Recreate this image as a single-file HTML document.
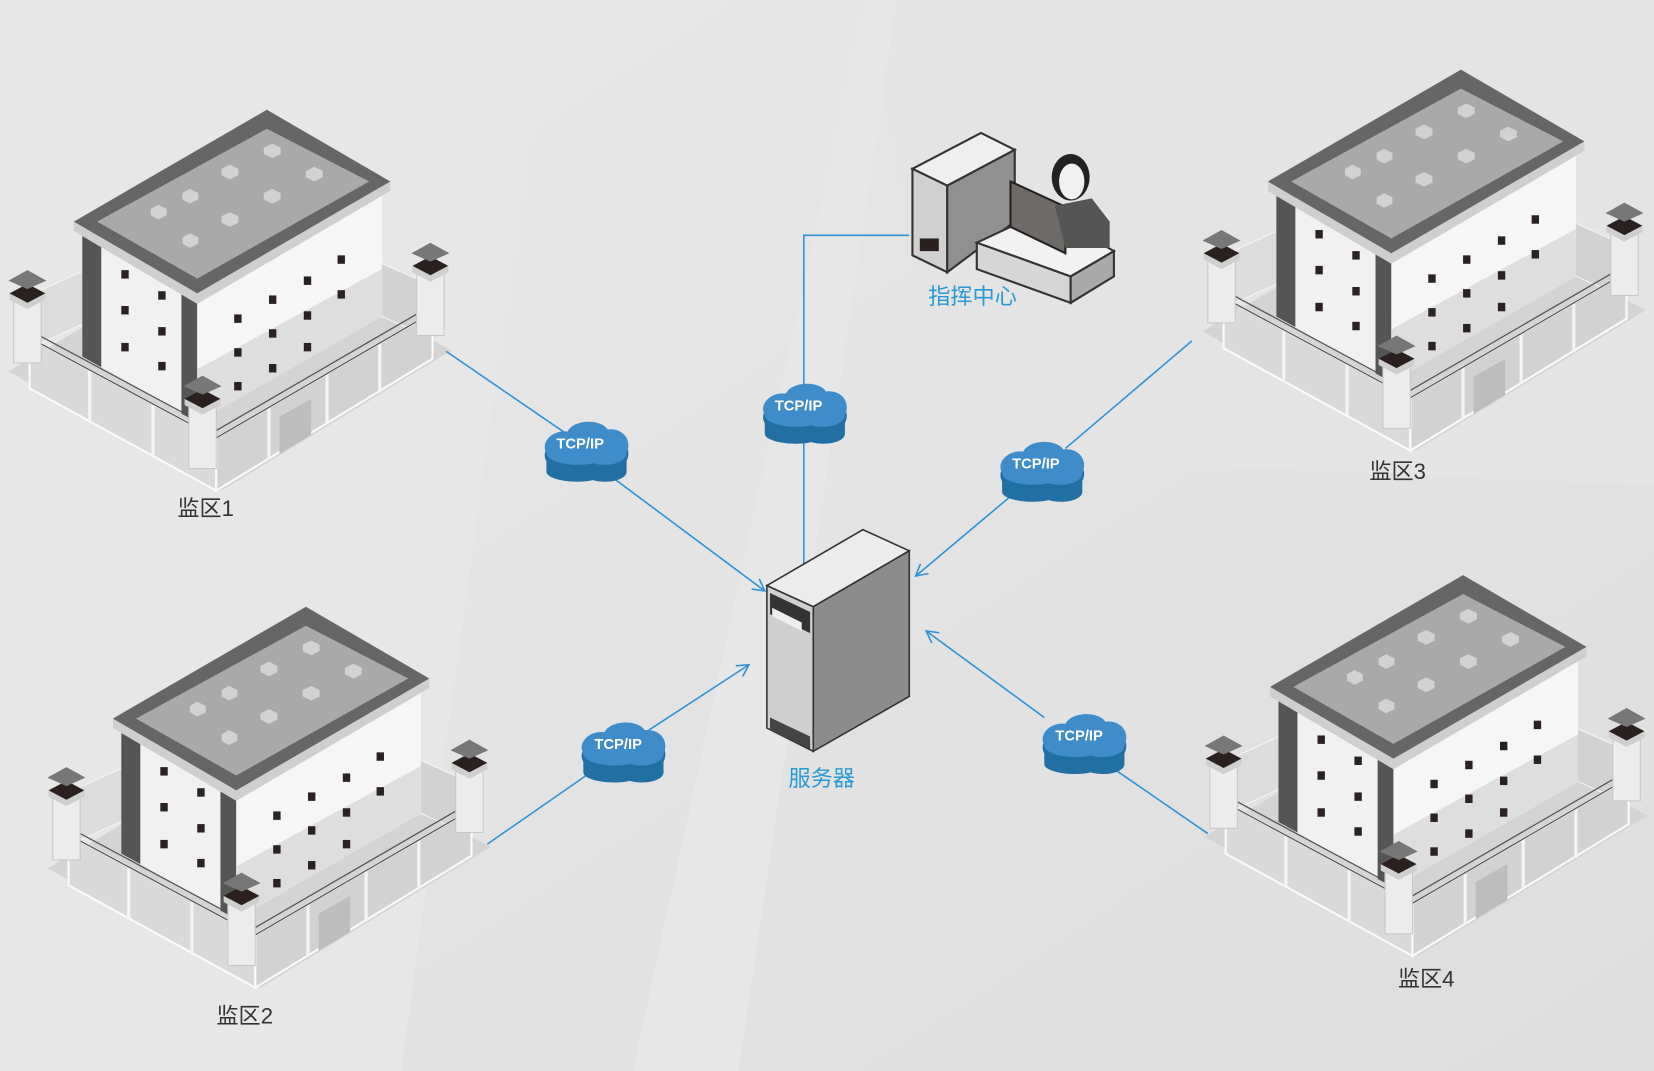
<!DOCTYPE html>
<html><head><meta charset="utf-8"><style>
html,body{margin:0;padding:0;width:1654px;height:1071px;overflow:hidden;background:#e3e3e3}
svg{display:block}
text{font-family:"Liberation Sans","Noto Sans CJK SC",sans-serif}
</style></head><body>
<svg width="1654" height="1071" viewBox="0 0 1568 1015" preserveAspectRatio="none" xmlns="http://www.w3.org/2000/svg">
<defs>
<linearGradient id="bg" x1="0" y1="0" x2="1" y2="1"><stop offset="0" stop-color="#e9e9e9"/><stop offset="1" stop-color="#dedede"/></linearGradient>
<marker id="ar" markerWidth="14" markerHeight="14" refX="12" refY="7" orient="auto" markerUnits="userSpaceOnUse"><path d="M1,1 L12,7 L1,13" fill="none" stroke="#2d93d8" stroke-width="1.5"/></marker>
<g id="tower">
<rect x="-13" y="0" width="26" height="62" fill="#ececec" stroke="#c8c8c8"/>
<polygon points="-17,-4 0,-13 17,-4 0,5" fill="#2a2020"/>
<polygon points="-17,-4 0,5 17,-4 17,2 0,11 -17,2" fill="#cfcfcf"/>
<polygon points="-18,-16 0,-26 18,-16 0,-8" fill="#777"/>
</g>
<g id="bld">
<polygon points="8,352 210,465 428,332 226,222" fill="#d4d4d4"/>
<polygon points="28,280 226,190 226,240 28,330" fill="#dcdcdc" stroke="#f4f4f4"/>
<polygon points="226,190 408,270 408,320 226,240" fill="#d2d2d2" stroke="#f4f4f4"/>
<polygon points="78,215 187,278 187,400 78,338" fill="#f1f1f1"/>
<polygon points="78,215 96,225 96,348 78,338" fill="#555"/>
<polygon points="172,270 187,278 187,400 172,392" fill="#555"/>
<polygon points="187,278 362,178 362,300 187,400" fill="#f6f6f6"/>
<polygon points="187,350 362,255 362,300 187,400" fill="#dedede"/>
<g fill="#2a2222">
<rect x="115" y="256" width="7" height="8"/><rect x="150" y="276" width="7" height="8"/>
<rect x="115" y="290" width="7" height="8"/><rect x="150" y="310" width="7" height="8"/>
<rect x="115" y="325" width="7" height="8"/><rect x="150" y="343" width="7" height="8"/>
<rect x="222" y="298" width="7" height="8"/><rect x="255" y="280" width="7" height="8"/><rect x="288" y="262" width="7" height="8"/><rect x="320" y="242" width="7" height="8"/>
<rect x="222" y="330" width="7" height="8"/><rect x="255" y="312" width="7" height="8"/><rect x="288" y="295" width="7" height="8"/><rect x="320" y="275" width="7" height="8"/>
<rect x="222" y="362" width="7" height="8"/><rect x="255" y="345" width="7" height="8"/><rect x="288" y="325" width="7" height="8"/>
</g>
<polygon points="70,210 187,278 370,172 370,181 187,288 70,219" fill="#cfcfcf"/>
<polygon points="253,104 370,172 187,278 70,210" fill="#666"/>
<polygon points="253,122 350,172 187,264 92,210" fill="#a9a9a9"/>
<g fill="#d2d2d2">
<polygon points="143,198 150,194 158,198 158,204 150,208 143,204"/>
<polygon points="173,183 180,179 188,183 188,189 180,193 173,189"/>
<polygon points="210,160 218,156 226,160 226,166 218,170 210,166"/>
<polygon points="250,140 258,136 266,140 266,146 258,150 250,146"/>
<polygon points="173,225 180,221 188,225 188,231 180,235 173,231"/>
<polygon points="210,205 218,201 226,205 226,211 218,215 210,211"/>
<polygon points="250,183 258,179 266,183 266,189 258,193 250,189"/>
<polygon points="290,162 298,158 306,162 306,168 298,172 290,168"/>
</g>
<polygon points="28,320 205,415 205,465 28,368" fill="#d9d9d9" stroke="#fafafa" stroke-width="2"/>
<polygon points="205,415 410,296 410,340 205,465" fill="#d2d2d2" stroke="#fafafa" stroke-width="2"/>
<g stroke="#f4f4f4" stroke-width="3">
<line x1="85" y1="351" x2="85" y2="399"/><line x1="145" y1="383" x2="145" y2="432"/>
<line x1="255" y1="386" x2="255" y2="435"/><line x1="310" y1="354" x2="310" y2="402"/><line x1="360" y1="325" x2="360" y2="372"/>
</g>
<polygon points="265,395 295,378 295,412 265,430" fill="#bdbdbd"/>
<g stroke="#555" stroke-width="1.2" fill="none">
<path d="M28,320 L205,415 L410,296"/><path d="M28,313 L205,408 L410,289"/>
</g>
<use href="#tower" x="26" y="282"/>
<use href="#tower" x="408" y="256"/>
<use href="#tower" x="192" y="382"/>
</g>
<g id="cloud">
<path d="M-38,10 C-44,0 -32,-12 -18,-10 C-12,-22 14,-22 20,-12 C34,-14 44,-2 38,10 L38,20 C38,28 20,32 6,28 C-10,32 -38,28 -38,20 Z" fill="#216fa3"/>
<path d="M-38,2 C-44,-8 -32,-20 -18,-18 C-12,-30 14,-30 20,-20 C34,-22 44,-10 38,2 C38,12 20,16 6,12 C-10,16 -38,12 -38,2 Z" fill="#3f8ccb"/>
</g>
</defs>
<rect width="1568" height="1015" fill="url(#bg)"/>
<polygon points="0,0 520,0 380,1015 0,1015" fill="#e7e7e7"/>
<polygon points="820,0 1568,0 1568,460 900,430" fill="#e4e4e4"/>
<polygon points="600,1015 820,0 850,0 700,1015" fill="#e7e7e7"/>
<use href="#bld" x="0" y="0"/>
<use href="#bld" x="37" y="471"/>
<use href="#bld" x="1132" y="-38"/>
<use href="#bld" x="1134" y="441"/>
<g stroke="#2d93d8" stroke-width="1.5" fill="none">
<line x1="423" y1="333" x2="550" y2="420"/>
<line x1="580" y1="452" x2="725" y2="560" marker-end="url(#ar)"/>
<line x1="462" y1="800" x2="570" y2="725"/>
<line x1="615" y1="692" x2="710" y2="630" marker-end="url(#ar)"/>
<line x1="1130" y1="323" x2="1010" y2="425"/>
<line x1="968" y1="462" x2="868" y2="546" marker-end="url(#ar)"/>
<line x1="1145" y1="790" x2="1055" y2="728"/>
<line x1="990" y1="680" x2="878" y2="598" marker-end="url(#ar)"/>
<polyline points="862,223 762,223 762,372"/>
<line x1="762" y1="412" x2="762" y2="535"/>
</g>
<use href="#cloud" x="556" y="427"/>
<use href="#cloud" x="591" y="712"/>
<use href="#cloud" x="763" y="391"/>
<use href="#cloud" x="988" y="446"/>
<use href="#cloud" x="1028" y="704"/>
<g fill="#fff" font-weight="bold" font-size="14" text-anchor="middle">
<text x="550" y="425">TCP/IP</text><text x="586" y="710">TCP/IP</text><text x="757" y="389">TCP/IP</text><text x="982" y="444">TCP/IP</text><text x="1023" y="702">TCP/IP</text>
</g>
<polygon points="727,555 818,502 862,522 771,575" fill="#ececec" stroke="#333" stroke-width="1.5"/>
<polygon points="727,555 771,575 771,712 727,690" fill="#cfcfcf" stroke="#333" stroke-width="1.5"/>
<polygon points="771,575 862,522 862,660 771,712" fill="#8c8c8c" stroke="#333" stroke-width="1.5"/>
<polygon points="730,562 768,580 768,600 730,582" fill="#333"/>
<polygon points="732,576 760,590 760,598 732,584" fill="#eee"/>
<polygon points="730,680 768,698 768,710 730,692" fill="#444"/>
<polygon points="865,160 930,126 962,142 898,176" fill="#efefef" stroke="#333" stroke-width="2"/>
<polygon points="865,160 898,176 898,258 865,242" fill="#d0d0d0" stroke="#333" stroke-width="2"/>
<polygon points="898,176 962,142 962,210 898,258" fill="#909090" stroke="#333" stroke-width="2"/>
<rect x="872" y="226" width="18" height="12" fill="#2a2020"/>
<polygon points="926,230 990,200 1056,238 1015,262" fill="#f2f2f2" stroke="#333" stroke-width="2"/>
<polygon points="926,230 1015,262 1015,287 926,255" fill="#d6d6d6" stroke="#333" stroke-width="2"/>
<polygon points="1015,262 1056,238 1056,262 1015,287" fill="#aaa" stroke="#333" stroke-width="2"/>
<polygon points="958,172 1010,196 1010,240 958,215" fill="#6e6a68" stroke="#222" stroke-width="2"/>
<ellipse cx="1015" cy="168" rx="18" ry="22" fill="#222"/>
<ellipse cx="1016" cy="172" rx="12" ry="17" fill="#f0f0f0"/>
<polygon points="1000,195 1035,188 1052,210 1052,235 1010,235" fill="#555"/>
<g font-size="21" text-anchor="middle">
<text x="922" y="288" fill="#2a9ad6">指挥中心</text>
<text x="779" y="745" fill="#2a9ad6">服务器</text>
<text x="195" y="489" fill="#333">监区1</text>
<text x="232" y="970" fill="#333">监区2</text>
<text x="1325" y="454" fill="#333">监区3</text>
<text x="1352" y="935" fill="#333">监区4</text>
</g>
</svg>
</body></html>
